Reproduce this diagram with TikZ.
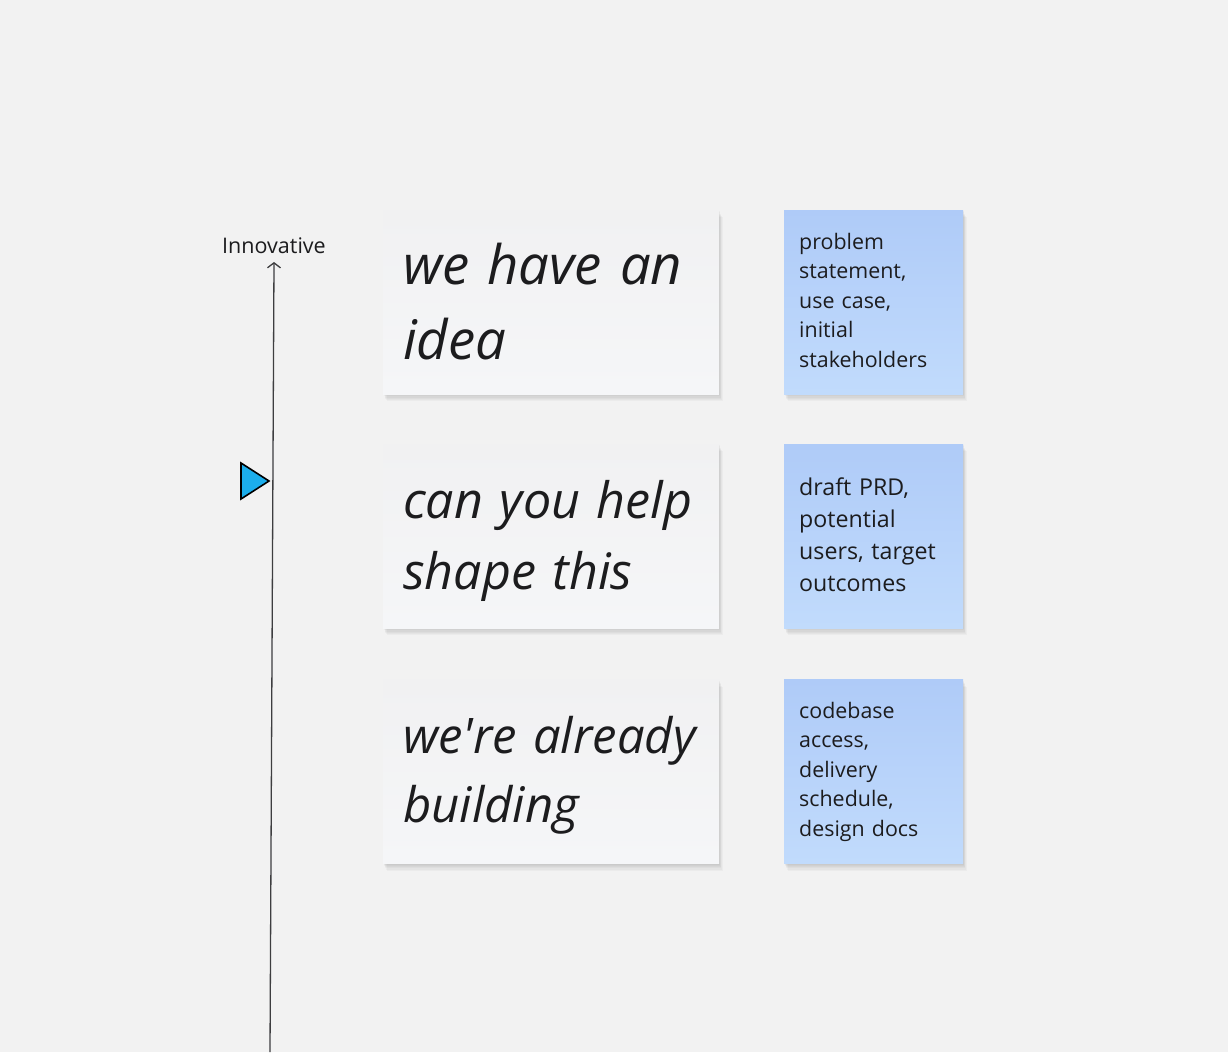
\documentclass[tikz,border=0pt]{standalone}
\usepackage{fontspec}
\setmainfont{Open Sans}
\usetikzlibrary{arrows.meta,positioning}

\definecolor{canvas}{HTML}{F2F2F2}
\definecolor{cardtop}{HTML}{F1F1F2}
\definecolor{cardbottom}{HTML}{F5F6F8}
\definecolor{stickytop}{HTML}{AFCBF8}
\definecolor{stickybottom}{HTML}{C1DBFC}
\definecolor{ink}{HTML}{1C1C1E}
\definecolor{marker}{HTML}{1CAEEC}

\begin{document}
\begin{tikzpicture}
[
	               x = 1pt, y = -1pt,
	    soft/.style = { preaction={fill=black, fill opacity=0.028, transform canvas={xshift=#1, yshift=-2*#1}} },
	    card/.style = { minimum width=336pt, minimum height=184pt, inner sep=0pt,
	                    top color=cardtop, bottom color=cardbottom,
	                    soft=0.6pt, soft=1.2pt, soft=1.8pt, soft=2.4pt, soft=3pt, soft=3.6pt },
	  sticky/.style = { card, minimum width=179pt, top color=stickytop, bottom color=stickybottom },
	 bigtext/.style = { anchor=base west, inner sep=0pt, text width=330pt, align=left,
	                    text=ink, font=\fontsize{54.5}{75}\selectfont\itshape },
	notetext/.style = { anchor=base west, inner sep=0pt, text width=165pt, align=left,
	                    text=ink, font=\fontsize{21.4}{29.5}\selectfont },
	    axis/.style = { draw=ink!85, line width=1.3pt, -{Straight Barb[length=5pt,width=13pt]} }
]
	\fill [canvas] (0,0) rectangle (1228,1052);
	\useasboundingbox (0,0) rectangle (1228,1052);

	% the axis
	\coordinate (axisbottom) at (270,1052);
	\coordinate (axistop)    at (274,262);
	\draw [axis] (axisbottom) -- (axistop);
	\node (innovative) at (274,253) [anchor=base, inner sep=0pt, text=ink, font=\fontsize{21.5}{25}\selectfont] {Innovative};

	% marker on the axis
	\coordinate (markertip) at (269,481);
	\draw [fill=marker, line width=1.6pt, line join=miter] (markertip) -- ++(-28,-18) -- ++(0,36) -- cycle;

	% cards
	\node (idea)     at (551,302)   [card]   {};
	\node (shape)    at (551,536)   [card]   {};
	\node (building) at (551,771.5) [card]   {};
	\node (ideanote)     at (873.5,302)   [sticky] {};
	\node (shapenote)    at (873.5,536)   [sticky] {};
	\node (buildingnote) at (873.5,771.5) [sticky] {};

	% texts
	\node (ideatext)     at (403,284) [bigtext] {we have an\\idea};
	\node (shapetext)    at (403,518) [bigtext, font=\fontsize{50.2}{71}\selectfont\itshape] {can you help\\shape this};
	\node (buildingtext) at (403,753) [bigtext, font=\fontsize{49}{69}\selectfont\itshape] {we\textquotesingle re already\\building};

	\node (ideanotetext)     at (799,249) [notetext] {problem\\statement,\\use case,\\initial\\stakeholders};
	\node (shapenotetext)    at (799,495) [notetext, font=\fontsize{23.2}{32.3}\selectfont] {draft PRD,\\potential\\users, target\\outcomes};
	\node (buildingnotetext) at (799,718) [notetext] {codebase\\access,\\delivery\\schedule,\\design docs};

\end{tikzpicture}
\end{document}
